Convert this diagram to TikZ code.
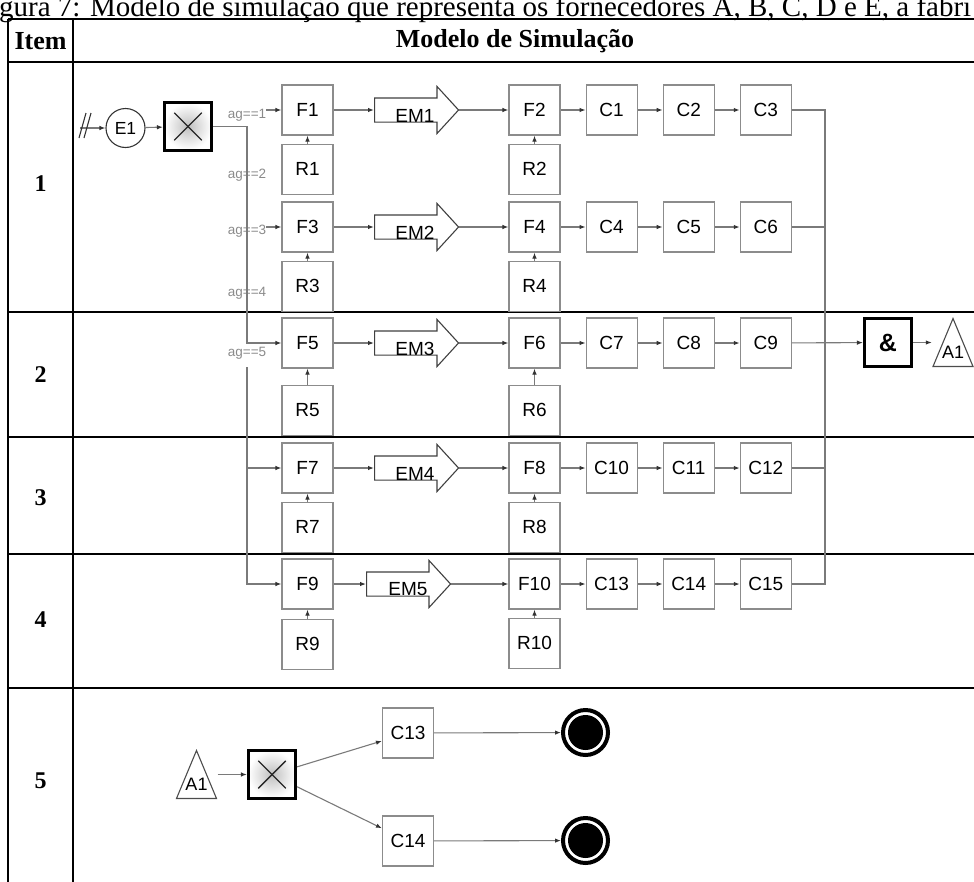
\documentclass[tikz,border=0pt]{standalone}
\usepackage{fontspec}
\setmainfont{Liberation Serif}
\setsansfont{Liberation Sans}
\usetikzlibrary{positioning, arrows.meta, calc, shapes.arrows}
\definecolor{flowgray}{HTML}{7A7A7A}
\definecolor{boxgray}{HTML}{8C8C8C}
\definecolor{labgray}{HTML}{8A8A8A}

\begin{document}
\begin{tikzpicture}[
    x=1pt, y=-1pt,
    every node/.style={font=\sffamily},
    task/.style={
      rectangle, draw=boxgray, line width=1.1pt, fill=white,
      minimum width=51pt, minimum height=50pt, inner sep=0pt,
      font=\sffamily\fontsize{19}{19}\selectfont
    },
    startev/.style={
      circle, draw=black!80, line width=1.1pt, minimum size=39pt,
      inner sep=0pt, font=\sffamily\fontsize{17.5}{17.5}\selectfont
    },
    endev/.style={
      circle, draw=black, line width=4pt, minimum size=45pt, inner sep=0pt,
      path picture={\fill[black] (path picture bounding box.center) circle (17.5pt);}
    },
    xgate/.style={
      rectangle, draw=black, line width=2.6pt, minimum size=47.5pt,
      inner sep=0pt, inner color=gray!50, outer color=white,
      path picture={
        \draw[line width=1.4pt, black!85]
          ($(path picture bounding box.north west)+(10pt,-10pt)$) --
          ($(path picture bounding box.south east)+(-10pt,10pt)$);
        \draw[line width=1.4pt, black!85]
          ($(path picture bounding box.south west)+(10pt,10pt)$) --
          ($(path picture bounding box.north east)+(-10pt,-10pt)$);
      }
    },
    andgate/.style={
      rectangle, draw=black, line width=2.6pt, minimum size=47.5pt,
      inner sep=0pt, font=\sffamily\bfseries\fontsize{25}{25}\selectfont
    },
    trig/.style={
      rectangle, minimum width=42pt, minimum height=50pt, inner sep=0pt,
      text height=32pt, text depth=0pt,
      font=\sffamily\fontsize{18}{18}\selectfont,
      path picture={
        \draw[line width=1.1pt, black!70]
          ($(path picture bounding box.south west)+(1pt,1pt)$) --
          ($(path picture bounding box.north)+(0pt,-1pt)$) --
          ($(path picture bounding box.south east)+(-1pt,1pt)$) -- cycle;
      }
    },
    emarrow/.style={
      single arrow, draw=black!75, line width=1.1pt, fill=white,
      minimum height=84pt, minimum width=46pt, inner xsep=0pt,
      inner ysep=11.5pt, single arrow head extend=11.5pt,
      single arrow tip angle=95, anchor=tail
    },
    emlab/.style={font=\sffamily\fontsize{19}{19}\selectfont, inner sep=0pt},
    aglab/.style={font=\sffamily\fontsize{13.5}{13.5}\selectfont, text=labgray, inner sep=0pt},
    headtxt/.style={font=\rmfamily\bfseries\fontsize{26}{26}\selectfont},
    rownum/.style={font=\rmfamily\bfseries\fontsize{24}{24}\selectfont},
    tab/.style={line width=1.5pt, draw=black},
    flow/.style={line width=1.1pt, draw=flowgray},
    arr/.style={flow, -{Latex[length=6pt, width=4.5pt, color=black!80]}},
  ]

  \useasboundingbox (0,0) rectangle (974,881);

  % table frame
  \node[anchor=base west, inner sep=0pt, font=\rmfamily\fontsize{29}{29}\selectfont] (capt)
    at (-1,16) {gura 7: Modelo de simulação que representa os fornecedores A, B, C, D e E, a fábri};
  \draw[tab] (8,19) -- (980,19);
  \draw[tab, line width=2.6pt] (8,62) -- (980,62);
  \draw[tab, line width=2pt] (8,312) -- (980,312);
  \draw[tab, line width=2pt] (8,437) -- (980,437);
  \draw[tab, line width=2pt] (8,554) -- (980,554);
  \draw[tab, line width=2pt] (8,688) -- (980,688);
  \draw[tab] (8,19) -- (8,885);
  \draw[tab] (73,19) -- (73,885);

  \node[headtxt] (hitem) at (40.5,41) {Item};
  \node[headtxt] (hmod)  at (515,41) {Modelo de Simulação};
  \node[rownum] (n1) at (40.5,184) {1};
  \node[rownum] (n2) at (40.5,375) {2};
  \node[rownum] (n3) at (40.5,498) {3};
  \node[rownum] (n4) at (40.5,620) {4};
  \node[rownum] (n5) at (40.5,781) {5};

  % start and split
  \coordinate (src) at (80,128);
  \node[startev] (e1) at (125.5,128) {E1};
  \node[xgate]   (g1) at (188,126.5) {};

  \node[aglab] (ag1) at (247,115) {ag==1};
  \node[aglab] (ag2) at (247,175) {ag==2};
  \node[aglab] (ag3) at (247,231) {ag==3};
  \node[aglab] (ag4) at (247,293) {ag==4};
  \node[aglab] (ag5) at (247,353) {ag==5};
  \coordinate (b5) at ($(ag5.south)+(0,8)$);

  % suppliers
  \node[task] (f1) at (307.5,110) {F1};
  \node[task, below=8pt of f1] (r1) {R1};
  \node[task] (f3) at (307.5,227) {F3};
  \node[task, below=8pt of f3] (r3) {R3};
  \node[task] (f5) at (307.5,343) {F5};
  \node[task, below=16pt of f5] (r5) {R5};
  \node[task] (f7) at (307.5,468) {F7};
  \node[task, below=8pt of f7] (r7) {R7};
  \node[task] (f9) at (307.5,584) {F9};
  \node[task, below=9pt of f9] (r9) {R9};

  \node[emarrow] (em1) at (374,110) {};
  \node[emarrow] (em2) at (374,227) {};
  \node[emarrow] (em3) at (374,343) {};
  \node[emarrow] (em4) at (374,468) {};
  \node[emarrow] (em5) at (366,584) {};
  \node[emlab] (em1t) at ($(em1.tail)+(41,6)$) {EM1};
  \node[emlab] (em2t) at ($(em2.tail)+(41,6)$) {EM2};
  \node[emlab] (em3t) at ($(em3.tail)+(41,6)$) {EM3};
  \node[emlab] (em4t) at ($(em4.tail)+(41,6)$) {EM4};
  \node[emlab] (em5t) at ($(em5.tail)+(42,5)$) {EM5};

  % factory side
  \node[task] (f2) at (534.5,110) {F2};
  \node[task, below=8pt of f2] (r2) {R2};
  \node[task, right=25pt of f2] (c1) {C1};
  \node[task, right=25pt of c1] (c2) {C2};
  \node[task, right=25pt of c2] (c3) {C3};

  \node[task] (f4) at (534.5,227) {F4};
  \node[task, below=8pt of f4] (r4) {R4};
  \node[task, right=25pt of f4] (c4) {C4};
  \node[task, right=25pt of c4] (c5) {C5};
  \node[task, right=25pt of c5] (c6) {C6};

  \node[task] (f6) at (534.5,343) {F6};
  \node[task, below=16pt of f6] (r6) {R6};
  \node[task, right=25pt of f6] (c7) {C7};
  \node[task, right=25pt of c7] (c8) {C8};
  \node[task, right=25pt of c8] (c9) {C9};

  \node[task] (f8) at (534.5,468) {F8};
  \node[task, below=8pt of f8] (r8) {R8};
  \node[task, right=25pt of f8] (c10) {C10};
  \node[task, right=25pt of c10] (c11) {C11};
  \node[task, right=25pt of c11] (c12) {C12};

  \node[task] (f10) at (534.5,584) {F10};
  \node[task, below=8pt of f10] (r10) {R10};
  \node[task, right=25pt of f10] (c13) {C13};
  \node[task, right=25pt of c13] (c14) {C14};
  \node[task, right=25pt of c14] (c15) {C15};

  \coordinate (mx) at (825,0);
  \node[andgate] (g2) at (888,342.5) {\&};
  \node[trig] (a1) at (953,342.5) {A1};

  % row 5
  \node[trig]  (a1b)  at (196.5,774.5) {A1};
  \node[xgate] (g3)   at (272,774.5) {};
  \node[task]  (c13b) at (408,733) {C13};
  \node[task]  (c14b) at (408,841) {C14};
  \node[endev] (end1) at (585.5,732.5) {};
  \node[endev] (end2) at (585.5,840.5) {};

  % connectors
  \draw[arr] (src) -- (e1);
  \draw[line width=1.1pt, black!80] ($(src)+(-1,10)$) -- ++(7,-25);
  \draw[line width=1.1pt, black!80] ($(src)+(4,10)$) -- ++(7,-25);
  \draw[arr] (e1) -- (g1);
  \draw[arr] (g1.east) -- (g1.east -| ag2) -- (ag2 |- f5) -- (f5);
  \draw[arr] (ag1.east |- f1) -- (f1);
  \draw[arr] (ag3.east |- f3) -- (f3);
  \draw[arr] (b5) -- (b5 |- f9) -- (f9);
  \draw[arr] (b5 |- f7) -- (f7);

  \draw[arr] (r1) -- (f1);
  \draw[arr] (r3) -- (f3);
  \draw[arr] (r5) -- (f5);
  \draw[arr] (r7) -- (f7);
  \draw[arr] (r9) -- (f9);
  \draw[arr] (r2) -- (f2);
  \draw[arr] (r4) -- (f4);
  \draw[arr] (r6) -- (f6);
  \draw[arr] (r8) -- (f8);
  \draw[arr] (r10) -- (f10);

  \draw[arr] (f1) -- (em1.tail);
  \draw[arr] (f3) -- (em2.tail);
  \draw[arr] (f5) -- (em3.tail);
  \draw[arr] (f7) -- (em4.tail);
  \draw[arr] (f9) -- (em5.tail);
  \draw[arr] (em1.tip) -- (f2);
  \draw[arr] (em2.tip) -- (f4);
  \draw[arr] (em3.tip) -- (f6);
  \draw[arr] (em4.tip) -- (f8);
  \draw[arr] (em5.tip) -- (f10);

  \draw[arr] (f2) -- (c1);
  \draw[arr] (c1) -- (c2);
  \draw[arr] (c2) -- (c3);
  \draw[arr] (f4) -- (c4);
  \draw[arr] (c4) -- (c5);
  \draw[arr] (c5) -- (c6);
  \draw[arr] (f6) -- (c7);
  \draw[arr] (c7) -- (c8);
  \draw[arr] (c8) -- (c9);
  \draw[arr] (f8) -- (c10);
  \draw[arr] (c10) -- (c11);
  \draw[arr] (c11) -- (c12);
  \draw[arr] (f10) -- (c13);
  \draw[arr] (c13) -- (c14);
  \draw[arr] (c14) -- (c15);

  \draw[flow] (c3.east) -- (c3 -| mx) -- (c15 -| mx) -- (c15.east);
  \draw[flow] (c6.east) -- (c6 -| mx);
  \draw[flow] (c12.east) -- (c12 -| mx);
  \draw[arr] (c9) -- (g2);
  \draw[arr] (g2) -- (a1);

  \draw[arr] (a1b) -- (g3);
  \draw[arr] (g3) -- (c13b);
  \draw[arr] (g3) -- (c14b);
  \draw[arr] (c13b) -- (end1);
  \draw[arr] (c14b) -- (end2);

\end{tikzpicture}
\end{document}
